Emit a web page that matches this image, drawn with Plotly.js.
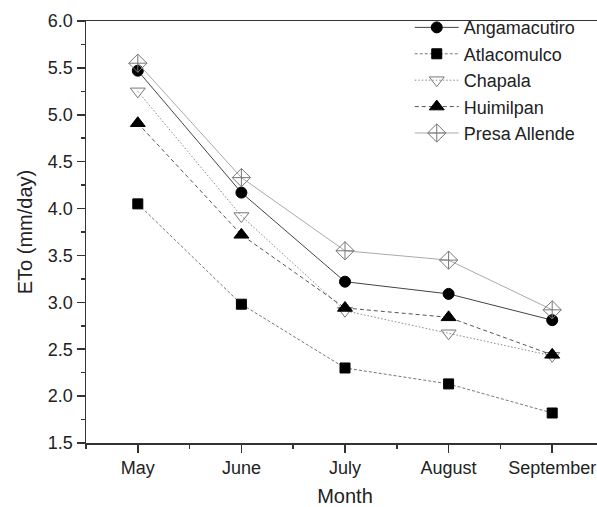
<!DOCTYPE html>
<html>
<head>
<meta charset="utf-8">
<script src="https://cdn.plot.ly/plotly-3.0.1.min.js"></script>
<style>
html,body{margin:0;padding:0;overflow:hidden;background:#fff;}
#chart{width:604px;height:507px;}
</style>
</head>
<body>
<div id="chart"></div>
<script>
var months = ["May", "June", "July", "August", "September"];
var angamacutiro = [5.47, 4.17, 3.22, 3.09, 2.81];
var atlacomulco = [4.05, 2.98, 2.30, 2.13, 1.82];
var chapala = [5.25, 3.92, 2.91, 2.67, 2.43];
var huimilpan = [4.91, 3.72, 2.94, 2.84, 2.44];
var presaAllende = [5.55, 4.33, 3.55, 3.45, 2.92];

var xIdx = months.map(function(m, i){ return i; });

function tr(name, y, lineColor, dash, sym, msize, mcolor, mline){
  return {
    x: xIdx, y: y, name: name, type: 'scatter', mode: 'lines+markers',
    line: {color: lineColor, width: 1, dash: dash},
    marker: {symbol: sym, size: msize, color: mcolor, line: {color: mline, width: 1}}
  };
}

var data = [
  tr('Angamacutiro', angamacutiro, '#444444', 'solid', 'circle', 11, '#000000', '#000000'),
  tr('Atlacomulco', atlacomulco, '#777777', '3px,2px', 'square', 10, '#000000', '#000000'),
  tr('Chapala', chapala, '#888888', '1.5px,2px', 'triangle-down-open', 13, '#777777', '#777777'),
  tr('Huimilpan', huimilpan, '#555555', '4px,3px', 'triangle-up', 13, '#000000', '#000000'),
  tr('Presa Allende', presaAllende, '#aaaaaa', 'solid', 'diamond-cross-open', 14, '#777777', '#777777')
];

var layout = {
  width: 604, height: 507,
  margin: {l: 86, r: 0, t: 21, b: 64},
  paper_bgcolor: '#ffffff', plot_bgcolor: '#ffffff',
  font: {family: 'Liberation Sans, Arial, sans-serif', size: 18, color: '#222222'},
  showlegend: true,
  legend: {x: 0.625, y: 1.028, xanchor: 'left', yanchor: 'top', bgcolor: 'rgba(0,0,0,0)',
           borderwidth: 0, font: {size: 18, color: '#222222'}, tracegroupgap: 0, itemwidth: 44},
  xaxis: {
    range: [-0.5, 4.5], tickmode: 'array', tickvals: xIdx, ticktext: months,
    showgrid: false, zeroline: false, showline: true, linecolor: '#333333', linewidth: 1.5,
    mirror: true, ticks: 'outside', ticklen: 8, tickcolor: '#333333', tickwidth: 1.5,
    minor: {tickvals: [-0.5, 0.5, 1.5, 2.5, 3.5, 4.5], ticks: 'outside', ticklen: 4, tickcolor: '#333333', tickwidth: 1.5},
    tickfont: {size: 18},
    title: {text: 'Month', font: {size: 20}, standoff: 12}
  },
  yaxis: {
    range: [1.5, 6.0], tickmode: 'linear', tick0: 1.5, dtick: 0.5, tickformat: '.1f',
    showgrid: false, zeroline: false, showline: true, linecolor: '#333333', linewidth: 1.5,
    ticks: 'outside', ticklen: 8, tickcolor: '#333333', tickwidth: 1.5,
    minor: {dtick: 0.25, ticks: 'outside', ticklen: 4, tickcolor: '#333333', tickwidth: 1.5},
    tickfont: {size: 18},
    title: {text: 'ETo (mm/day)', font: {size: 20}, standoff: 10}
  }
};

Plotly.newPlot('chart', data, layout, {displayModeBar: false, staticPlot: true});
</script>
</body>
</html>
